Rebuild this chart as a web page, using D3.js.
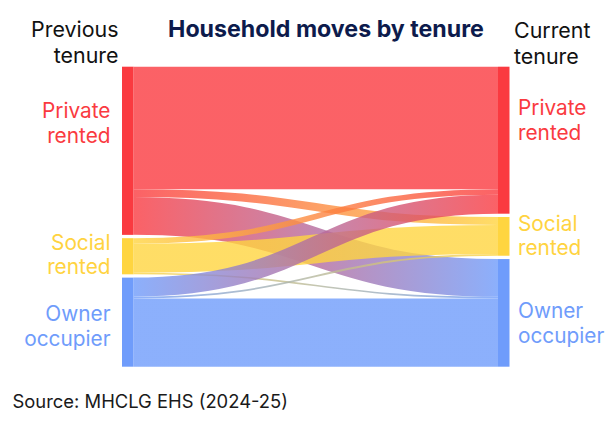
<!DOCTYPE html>
<html><head><meta charset="utf-8">
<script src="https://cdn.jsdelivr.net/npm/d3@7"></script>
<style>body{margin:0;background:#fff} svg{display:block}</style>
</head><body>
<svg id="c" width="613" height="421"></svg>
<script>
// ---- data (thousands of households) ----
const tenures = ["Private rented", "Social rented", "Owner occupier"];
const tenureLines = [["Private", "rented"], ["Social", "rented"], ["Owner", "occupier"]];
// flows from each previous tenure to current tenure [Private, Social, Owner]
const fromPrivate = [613, 40, 189];
const fromSocial  = [28, 145, 8];
const fromOwner   = [95, 9, 342];
const titleText = "Household moves by tenure";
const sourceText = "Source: MHCLG EHS (2024-25)";
const prevHeader = ["Previous", "tenure"];
const currHeader = ["Current", "tenure"];

(function () {
// ---- styling / layout ----
const colors = ["#fa3a40", "#ffd540", "#6f9cfb"];
const textColors = ["#fa3a40", "#ffd340", "#6f9cfb"];
const font = "Inter, 'Noto Sans', sans-serif";
const matrix = [fromPrivate, fromSocial, fromOwner];
const yTop = 66.7, yBottom = 366.7, pad = 3.3;
const xL = 122, xR = 498, nodeW = 11.5;
const labelNudgeL = [-28, -1.5, 4];
const labelNudgeR = [-20, -1, 10];

const svg = d3.select("#c");
const defs = svg.append("defs");

const total = d3.sum(matrix.flat());
const h = d3.scaleLinear().domain([0, total]).range([0, yBottom - yTop - 2 * pad]);

const outTotals = matrix.map(r => d3.sum(r));
const inTotals = tenures.map((_, j) => d3.sum(matrix, r => r[j]));

function stack(tots) {
  let y = yTop;
  return tots.map(t => { const n = {y0: y, y1: y + h(t)}; y = n.y1 + pad; return n; });
}
const leftNodes = stack(outTotals);
const rightNodes = stack(inTotals);

const links = [];
matrix.forEach((row, i) => row.forEach((v, j) => {
  const sOff = d3.sum(row.slice(0, j));
  const tOff = d3.sum(matrix.slice(0, i), r => r[j]);
  const w = h(v);
  links.push({i, j, w,
    sy: leftNodes[i].y0 + h(sOff) + w / 2,
    ty: rightNodes[j].y0 + h(tOff) + w / 2});
}));

const linkGen = d3.linkHorizontal().x(d => d[0]).y(d => d[1]);
links.forEach((l, k) => {
  const g = defs.append("linearGradient").attr("id", "g" + k)
    .attr("gradientUnits", "userSpaceOnUse")
    .attr("x1", xL + nodeW).attr("x2", xR).attr("y1", 0).attr("y2", 0);
  g.append("stop").attr("offset", "0%").attr("stop-color", colors[l.i]);
  g.append("stop").attr("offset", "100%").attr("stop-color", colors[l.j]);
});
svg.append("g").selectAll("path").data(links).join("path")
  .attr("d", l => linkGen({source: [xL + nodeW, l.sy], target: [xR, l.ty]}))
  .attr("fill", "none")
  .attr("stroke", (l, k) => `url(#g${k})`)
  .attr("stroke-opacity", 0.8)
  .attr("stroke-width", l => Math.max(0.8, l.w));

svg.append("g").selectAll("rect").data(leftNodes).join("rect")
  .attr("x", xL).attr("width", nodeW)
  .attr("y", d => d.y0).attr("height", d => d.y1 - d.y0)
  .attr("fill", (d, i) => colors[i]);
svg.append("g").selectAll("rect").data(rightNodes).join("rect")
  .attr("x", xR).attr("width", nodeW)
  .attr("y", d => d.y0).attr("height", d => d.y1 - d.y0)
  .attr("fill", (d, i) => colors[i]);

const fs = 20.8, lh = 24.5;
function nodeLabels(nodes, x, anchor, nudge) {
  nodes.forEach((n, i) => {
    const c = (n.y0 + n.y1) / 2 + nudge[i];
    const b1 = c - lh / 2 + fs * 0.36;
    const t = svg.append("text").attr("x", x).attr("y", b1)
      .attr("text-anchor", anchor).attr("font-family", font)
      .attr("font-size", fs).attr("fill", textColors[i]);
    tenureLines[i].forEach((s, k) => t.append("tspan").attr("x", x).attr("dy", k ? lh : 0).text(s));
  });
}
nodeLabels(leftNodes, 110.5, "end", labelNudgeL);
nodeLabels(rightNodes, 518, "start", labelNudgeR);

function header(lines, x, y, anchor) {
  const t = svg.append("text").attr("x", x).attr("y", y).attr("text-anchor", anchor)
    .attr("font-family", font).attr("font-size", 21.4).attr("fill", "#111");
  lines.forEach((s, k) => t.append("tspan").attr("x", x).attr("dy", k ? 26 : 0).text(s));
}
header(prevHeader, 118.5, 36.7, "end");
header(currHeader, 514, 38, "start");

svg.append("text").attr("x", 326).attr("y", 37.3).attr("text-anchor", "middle")
  .attr("font-family", font).attr("font-weight", 700).attr("font-size", 23.2)
  .attr("fill", "#0d1b4c").text(titleText);

svg.append("text").attr("x", 12.5).attr("y", 408).attr("font-family", font)
  .attr("font-size", 18.4).attr("fill", "#1a1a1a").text(sourceText);
})();
</script>
</body></html>
